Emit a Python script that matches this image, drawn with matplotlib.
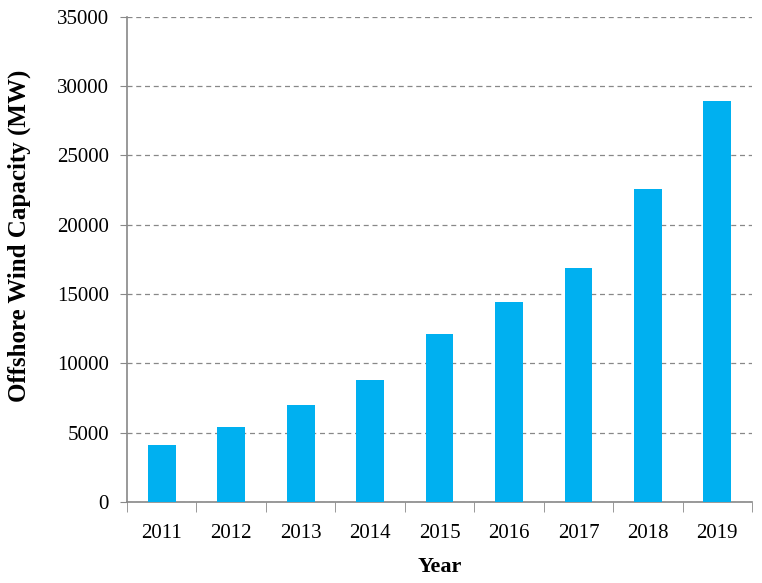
import matplotlib
matplotlib.use("Agg")
import matplotlib.pyplot as plt
import numpy as np

years = ["2011", "2012", "2013", "2014", "2015", "2016", "2017", "2018", "2019"]
capacity = [4100, 5400, 7000, 8800, 12100, 14400, 16900, 22600, 28900]
yticks = [0, 5000, 10000, 15000, 20000, 25000, 30000, 35000]

plt.rcParams['font.family'] = ['Liberation Serif', 'DejaVu Serif']

fig = plt.figure(figsize=(7.62, 5.83), dpi=100)
ax = fig.add_axes([0.1667, 0.139, 0.8203, 0.832])

x = np.arange(len(years))
ax.bar(x, capacity, width=0.4, color="#00B0F0", zorder=3)

ax.set_xlim(-0.5, len(years) - 0.5)
ax.set_ylim(0, 35000)
ax.set_yticks(yticks)
ax.set_yticklabels([str(v) for v in yticks], fontsize=15)
ax.set_xticks(x)
ax.set_xticklabels(years, fontsize=15)
ax.tick_params(axis='x', which='major', length=0, pad=16)
ax.set_xticks(np.arange(-0.5, len(years)), minor=True)
ax.tick_params(axis='x', which='minor', length=7, color='#888888', direction='out')
ax.tick_params(axis='y', length=5, color='#888888', pad=8)

ax.yaxis.grid(True, linestyle=(0, (4, 3)), color='#888888', linewidth=0.9, zorder=0)
ax.set_axisbelow(True)

for s in ['top', 'right']:
    ax.spines[s].set_visible(False)
for s in ['left', 'bottom']:
    ax.spines[s].set_color('#888888')
    ax.spines[s].set_linewidth(1.2)

ax.set_xlabel("Year", fontsize=16, fontweight='bold', labelpad=10)
fig.text(19 / 762, 1 - 236 / 583, "Offshore Wind Capacity (MW)", rotation=90,
         ha='center', va='center', fontsize=18, fontweight='bold')

fig.savefig("out.png", dpi=100)
